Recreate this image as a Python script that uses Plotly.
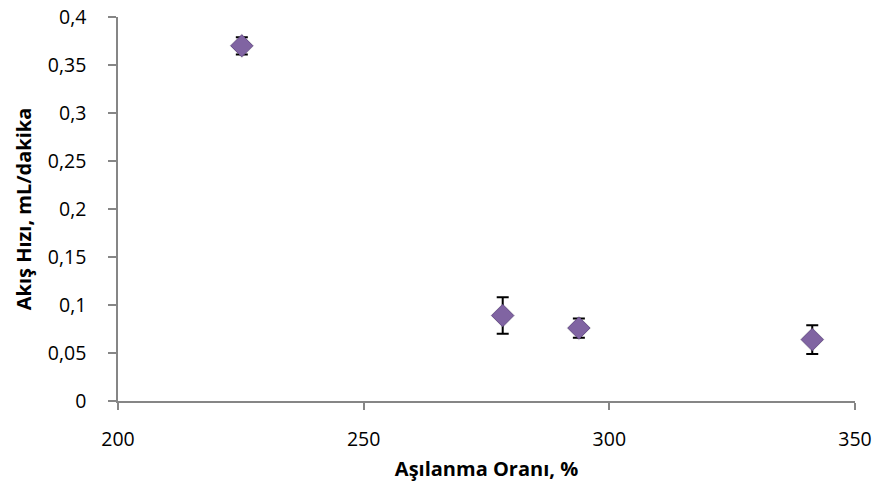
import plotly.graph_objects as go

# Data
grafting_ratio = [225.2, 278.3, 293.8, 341.3]
flow_rate = [0.370, 0.089, 0.076, 0.064]
flow_err = [0.009, 0.019, 0.010, 0.015]

x_tickvals = [200, 250, 300, 350]
x_ticktext = ["200", "250", "300", "350"]
y_tickvals = [0, 0.05, 0.1, 0.15, 0.2, 0.25, 0.3, 0.35, 0.4]
y_ticktext = ["0", "0,05", "0,1", "0,15", "0,2", "0,25", "0,3", "0,35", "0,4"]

fig = go.Figure()

fig.add_trace(go.Scatter(
    x=grafting_ratio, y=flow_rate, mode="markers",
    marker=dict(symbol="diamond", size=19, color="rgba(0,0,0,0.14)", line=dict(width=0)),
    hoverinfo="skip", showlegend=False,
))

fig.add_trace(go.Scatter(
    x=grafting_ratio, y=flow_rate, mode="markers",
    error_y=dict(type="data", array=flow_err, visible=True, color="black", thickness=2, width=6),
    marker=dict(symbol="diamond", size=17, color="#8064A2",
                line=dict(color="#6A4F8E", width=1)),
    showlegend=False,
))

axis_font = dict(family="Open Sans, Noto Sans, sans-serif", size=19.5, color="#000000")
title_font = dict(family="Open Sans, Noto Sans, sans-serif", size=20, color="#000000", weight="bold")

fig.update_layout(
    width=880, height=482,
    margin=dict(l=118, r=25, t=17, b=81),
    plot_bgcolor="white", paper_bgcolor="white",
    separators=", ",
    xaxis=dict(
        range=[200, 350], tickvals=x_tickvals, ticktext=x_ticktext, automargin=False,
        showgrid=False, zeroline=False, showline=True, linecolor="#868686", linewidth=1.5,
        ticks="outside", ticklen=7, tickcolor="#868686", tickwidth=1.5,
        tickfont=axis_font, ticklabelstandoff=13,
        title=dict(text="Aşılanma Oranı, %", font=title_font, standoff=13),
    ),
    yaxis=dict(
        range=[0, 0.4], tickvals=y_tickvals, ticktext=y_ticktext, automargin=False,
        showgrid=False, zeroline=False, showline=True, linecolor="#868686", linewidth=1.5,
        ticks="outside", ticklen=8, tickcolor="#868686", tickwidth=1.5,
        tickfont=axis_font, ticklabelstandoff=18,
        title=dict(text="Akış Hızı, mL/dakika", font=title_font, standoff=11),
    ),
)

fig.write_html("out.html", config={"displayModeBar": False},
               post_script="document.body.style.margin='0';")
